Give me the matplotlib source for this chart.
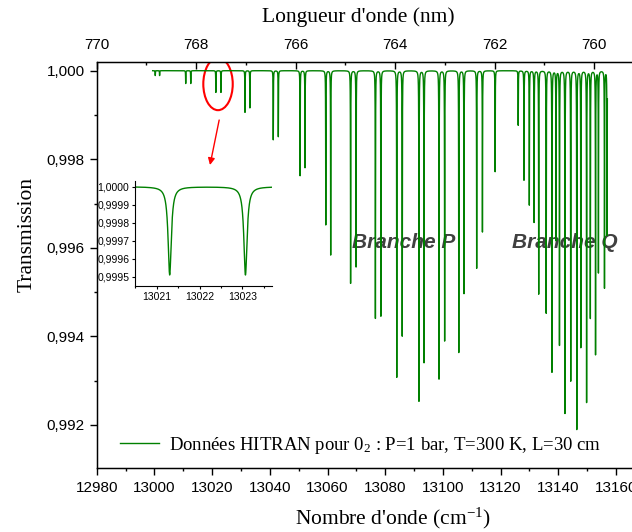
import numpy as np
import matplotlib.pyplot as plt
from matplotlib.patches import Ellipse
from matplotlib.ticker import MultipleLocator, FuncFormatter

plt.rcParams['font.family'] = 'Liberation Sans'
plt.rcParams['mathtext.fontset'] = 'custom'
plt.rcParams['mathtext.rm'] = 'Liberation Serif'
plt.rcParams['mathtext.it'] = 'Liberation Serif:italic'

# O2 A-band lines: centre (cm-1) and transmission at line centre
p_centre = [13000.3, 13001.8, 13010.85, 13012.6, 13021.3, 13023.07, 13031.4, 13033.1,
            13041.2, 13042.95, 13050.5, 13052.2, 13059.4, 13061.1, 13068.0, 13069.9,
            13076.6, 13078.5, 13084.0, 13085.9, 13091.7, 13093.45, 13098.65, 13100.6,
            13105.5, 13107.3, 13111.7, 13113.7, 13118.1]
p_min = [0.99989, 0.99989, 0.99971, 0.99971, 0.99951, 0.99951, 0.99906, 0.99916,
         0.99844, 0.99851, 0.99763, 0.99781, 0.99652, 0.99584, 0.99520, 0.99557,
         0.99441, 0.99446, 0.99308, 0.99401, 0.99254, 0.99341, 0.99304, 0.99390,
         0.99364, 0.99497, 0.99554, 0.99636, 0.99772]
r_centre = [13126.1, 13128.1, 13129.95, 13131.6, 13133.2, 13135.8, 13137.8, 13139.2,
            13140.4, 13142.3, 13144.3, 13146.4, 13147.8, 13149.8, 13151.1, 13152.9,
            13153.9, 13156.0, 13156.9]
r_min = [0.99877, 0.99753, 0.99697, 0.99658, 0.99496, 0.99453, 0.99320, 0.99618,
         0.99381, 0.99227, 0.99300, 0.99191, 0.99376, 0.99252, 0.99442, 0.99360,
         0.99545, 0.99510, 0.99629]
hwhm = 0.045
wn_start, wn_end = 12999.4, 13157.0

centres = np.array(p_centre + r_centre)
depth = 1 - np.array(p_min + r_min)
nu = np.sort(np.concatenate([np.linspace(wn_start, wn_end, 60000), centres]))
prof = hwhm**2 / ((nu[:, None] - centres[None, :])**2 + hwhm**2)
trans = 1 - (prof * depth).sum(axis=1)

green = '#008000'
serif = 'Liberation Serif'

fig = plt.figure(figsize=(6.32, 5.32), dpi=100)
W, H = 632, 532
ax = fig.add_axes([96.7 / W, 64 / H, 562.6 / W, 406.3 / H])
ax.plot(nu, trans, color=green, lw=1.0, zorder=2,
        label="Données HITRAN pour 0$_2$ : P=1 bar, T=300 K, L=30 cm")
ax.set_xlim(12980, 13175)
ax.set_ylim(0.991029, 1.000203)
ax.xaxis.set_major_locator(MultipleLocator(20))
ax.xaxis.set_minor_locator(MultipleLocator(10))
ax.yaxis.set_major_locator(MultipleLocator(0.002))
ax.yaxis.set_minor_locator(MultipleLocator(0.001))
ax.yaxis.set_major_formatter(FuncFormatter(lambda v, p: f'{v:.3f}'.replace('.', ',')))
ax.tick_params(which='both', direction='out', top=False, right=False, labelsize=11)
ax.tick_params(which='major', length=5, width=1)
ax.tick_params(which='minor', length=2.5, width=1)
ax.tick_params(axis='x', pad=4)
for s in ax.spines.values():
    s.set_linewidth(1.0)

top = ax.twiny()
top.set_xlim(770, 758.687)
top.xaxis.set_major_locator(MultipleLocator(2))
top.xaxis.set_minor_locator(MultipleLocator(1))
top.xaxis.set_major_formatter(FuncFormatter(lambda v, p: f'{v:.0f}'))
top.tick_params(which='both', direction='in', labelsize=11, pad=7)
top.tick_params(which='major', length=5, width=1)
top.tick_params(which='minor', length=2.5, width=1)

fig.text(358 / W, 1 - 17 / H, "Longueur d'onde (nm)", family=serif, fontsize=15.5,
         ha='center', va='center')
fig.text(393 / W, 1 - 518 / H, "Nombre d'onde (cm$^{-1}$)", family=serif, fontsize=15.5,
         ha='center', va='center')
fig.text(27 / W, 1 - 235 / H, "Transmission", family=serif, fontsize=15.5,
         ha='center', va='center', rotation=90)

ax.text(13068.5, 0.99611, 'Branche P', fontsize=15, fontweight='bold', fontstyle='italic',
        color='#404040', va='center', ha='left', zorder=1)
ax.text(13123.95, 0.99611, 'Branche Q', fontsize=15, fontweight='bold', fontstyle='italic',
        color='#404040', va='center', ha='left', zorder=1)

ax.legend(loc='center left', bbox_to_anchor=(120 / W, 1 - 445 / H),
          bbox_transform=fig.transFigure, frameon=False,
          prop={'family': serif, 'size': 13.5}, handlelength=2.1,
          handletextpad=0.5, borderpad=0, borderaxespad=0)

# red highlight of the zoomed lines
ax.add_patch(Ellipse((13022.05, 0.999699), 10.2, 0.001181, fill=False,
                     edgecolor='red', lw=1.5))
ax.annotate('', xy=(13019.27, 0.99787), xytext=(13022.45, 0.998886),
            arrowprops=dict(arrowstyle='-|>', color='red', lw=1,
                            mutation_scale=10, shrinkA=0, shrinkB=0))

# inset
axin = fig.add_axes([135 / W, 1 - 286 / H, (272 - 135) / W, (286 - 181) / H])
axin.patch.set_visible(False)
axin.plot(nu, trans, color=green, lw=1.0)
axin.set_xlim(13020.49, 13023.69)
axin.set_ylim(0.99944833, 1.0000317)
axin.spines['top'].set_visible(False)
axin.spines['right'].set_visible(False)
axin.xaxis.set_major_locator(MultipleLocator(1))
axin.xaxis.set_minor_locator(MultipleLocator(0.5))
axin.yaxis.set_major_locator(MultipleLocator(0.0001))
axin.xaxis.set_major_formatter(FuncFormatter(lambda v, p: f'{v:.0f}'))
axin.yaxis.set_major_formatter(FuncFormatter(lambda v, p: f'{v:.4f}'.replace('.', ',')))
axin.tick_params(which='both', direction='out', labelsize=7.5, width=0.8, pad=1.5)
axin.tick_params(which='major', length=2.5)
axin.tick_params(which='minor', length=1.5)

fig.savefig('out.png', dpi=100)
